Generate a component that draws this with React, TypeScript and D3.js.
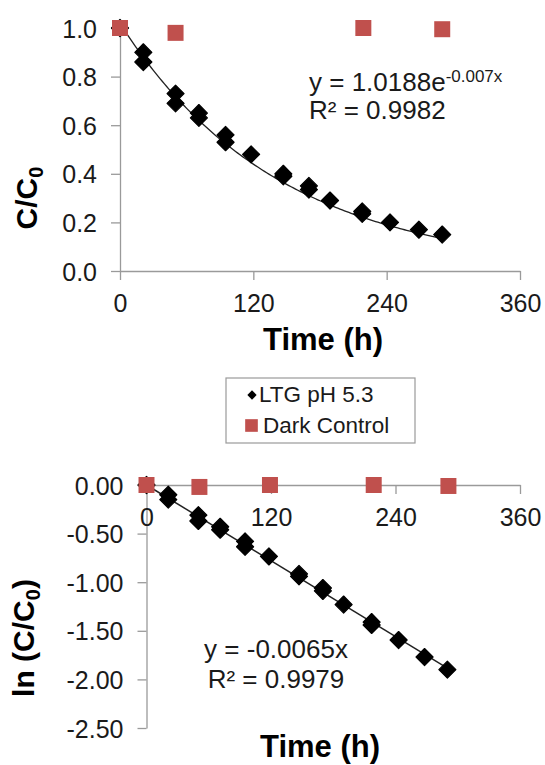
import React, { useRef, useEffect } from "react";
import * as d3 from "d3";

// photolysis series
const ltgTime = [0, 21, 21, 50, 50, 71, 71, 95, 95, 118, 147, 147, 170, 170, 189, 218, 218, 243, 269, 290];
const ltgRatio = [1.0, 0.9, 0.86, 0.73, 0.69, 0.65, 0.63, 0.56, 0.53, 0.48, 0.4, 0.39, 0.35, 0.335, 0.29, 0.245, 0.235, 0.2, 0.17, 0.15];
const darkTime = [0, 50, 219, 290];
const darkRatio = [1.0, 0.98, 1.0, 0.995];

const lnTime = [0, 21, 21, 50, 50, 71, 71, 95, 95, 118, 147, 147, 170, 170, 190, 217, 217, 243, 268, 290];
const lnRatio = [0, -0.1, -0.15, -0.31, -0.37, -0.43, -0.46, -0.58, -0.635, -0.735, -0.915, -0.94, -1.06, -1.09, -1.23, -1.41, -1.44, -1.595, -1.77, -1.9];
const lnDarkTime = [0, 51, 119, 219, 291];
const lnDarkRatio = [0, -0.02, 0, 0, -0.01];

const timeTicks = [0, 120, 240, 360];
const ratioTicks = [0, 0.2, 0.4, 0.6, 0.8, 1.0];
const lnTicks = [0, -0.5, -1.0, -1.5, -2.0, -2.5];

// fitted trendlines shown on the chart
const expFit = { a: 1.0188, k: -0.007, tMax: 290 };
const linFit = { m: -0.0065, tMax: 290 };

const FONT = "'Liberation Sans', Arial, sans-serif";
const RED = "#C0504D";
const AXIS = "#9a9a9a";

// excel style numbers: plain hyphen for negatives
const fmt = (digits) => (d) => d.toFixed(digits);

const App = () => {
  const ref = useRef<SVGSVGElement>(null);

  useEffect(() => {
    const svg = d3.select(ref.current);
    svg.selectAll("*").remove();

    const diamond = d3.symbol().type(d3.symbolDiamond2).size(185);
    const square = d3.symbol().type(d3.symbolSquare).size(256);

    const styleAxis = (g, anchorLeft) => {
      g.select(".domain").attr("stroke", AXIS).attr("stroke-width", 1.3);
      g.selectAll(".tick line").attr("stroke", AXIS).attr("stroke-width", 1.3);
      g.selectAll(".tick text")
        .attr("fill", "#1a1a1a")
        .style("font-family", FONT)
        .style("font-size", "25px");
      if (anchorLeft) g.selectAll(".tick text").attr("dy", "0.36em");
    };

    const drawDiamonds = (xs, ys, x, y, cls) =>
      svg
        .selectAll("." + cls)
        .data(xs)
        .enter()
        .append("path")
        .attr("class", cls)
        .attr("d", diamond)
        .attr("transform", (d, i) => `translate(${x(d)},${y(ys[i])})`)
        .attr("fill", "#000")
        .attr("stroke", "#000")
        .attr("stroke-width", 1.2)
        .attr("stroke-linejoin", "round");

    const drawSquares = (xs, ys, x, y, cls) =>
      svg
        .selectAll("." + cls)
        .data(xs)
        .enter()
        .append("path")
        .attr("class", cls)
        .attr("d", square)
        .attr("transform", (d, i) => `translate(${x(d)},${y(ys[i])})`)
        .attr("fill", RED);

    // ---------- top panel: C/C0 vs time ----------
    const x1 = d3.scaleLinear().domain([0, 360]).range([120, 520]);
    const y1 = d3.scaleLinear().domain([0, 1]).range([271, 28]);

    svg
      .append("g")
      .attr("transform", `translate(0,${y1(0)})`)
      .call(d3.axisBottom(x1).tickValues(timeTicks).tickSize(9).tickSizeOuter(0).tickPadding(14))
      .call((g) => styleAxis(g, false));

    svg
      .append("g")
      .attr("transform", `translate(${x1(0)},0)`)
      .call(
        d3
          .axisLeft(y1)
          .tickValues(ratioTicks)
          .tickSize(9)
          .tickSizeOuter(0)
          .tickPadding(14)
          .tickFormat(fmt(1))
      )
      .call((g) => styleAxis(g, true));

    const expLine = d3
      .line()
      .x((d) => x1(d))
      .y((d) => y1(expFit.a * Math.exp(expFit.k * d)));
    svg
      .append("path")
      .datum(d3.range(0, expFit.tMax + 1, 2))
      .attr("d", expLine)
      .attr("fill", "none")
      .attr("stroke", "#222")
      .attr("stroke-width", 1.3);

    drawDiamonds(ltgTime, ltgRatio, x1, y1, "ltg1");
    drawSquares(darkTime, darkRatio, x1, y1, "dark1");

    const eq1 = svg
      .append("text")
      .attr("x", 309)
      .attr("y", 91)
      .attr("fill", "#1a1a1a")
      .style("font-family", FONT)
      .style("font-size", "26px");
    eq1.append("tspan").text("y = 1.0188e");
    eq1.append("tspan").attr("dy", -9).style("font-size", "17px").text("-0.007x");

    svg
      .append("text")
      .attr("x", 309)
      .attr("y", 119)
      .attr("fill", "#1a1a1a")
      .style("font-family", FONT)
      .style("font-size", "26px")
      .text("R² = 0.9982");

    const t1 = svg
      .append("text")
      .attr("transform", "translate(37,198) rotate(-90)")
      .attr("text-anchor", "middle")
      .attr("fill", "#000")
      .style("font-family", FONT)
      .style("font-size", "30px")
      .style("font-weight", "bold");
    t1.append("tspan").text("C/C");
    t1.append("tspan").attr("dy", 6).style("font-size", "20px").text("0");

    svg
      .append("text")
      .attr("x", 323)
      .attr("y", 350)
      .attr("text-anchor", "middle")
      .attr("fill", "#000")
      .style("font-family", FONT)
      .style("font-size", "31px")
      .style("font-weight", "bold")
      .text("Time (h)");

    // ---------- legend ----------
    const lg = svg.append("g");
    lg.append("rect")
      .attr("x", 226)
      .attr("y", 378)
      .attr("width", 189)
      .attr("height", 65)
      .attr("fill", "#fff")
      .attr("stroke", AXIS)
      .attr("stroke-width", 1.2);
    lg.append("path")
      .attr("d", d3.symbol().type(d3.symbolDiamond2).size(55)())
      .attr("transform", "translate(252,395)")
      .attr("fill", "#000");
    lg.append("path")
      .attr("d", d3.symbol().type(d3.symbolSquare).size(160)())
      .attr("transform", "translate(251.5,425.5)")
      .attr("fill", RED);
    lg.append("text")
      .attr("x", 259)
      .attr("y", 402)
      .style("font-family", FONT)
      .style("font-size", "22.5px")
      .attr("fill", "#1a1a1a")
      .text("LTG pH 5.3");
    lg.append("text")
      .attr("x", 263)
      .attr("y", 433)
      .style("font-family", FONT)
      .style("font-size", "22.5px")
      .attr("fill", "#1a1a1a")
      .text("Dark Control");

    // ---------- bottom panel: ln(C/C0) vs time ----------
    const x2 = d3.scaleLinear().domain([0, 360]).range([146.5, 520]);
    const y2 = d3.scaleLinear().domain([-2.5, 0]).range([728, 485]);

    svg
      .append("g")
      .attr("transform", `translate(${x2(0)},0)`)
      .call(
        d3
          .axisLeft(y2)
          .tickValues(lnTicks)
          .tickSize(9)
          .tickSizeOuter(0)
          .tickPadding(14)
          .tickFormat(fmt(2))
      )
      .call((g) => styleAxis(g, true));

    svg
      .append("g")
      .attr("transform", `translate(0,${y2(0)})`)
      .call(d3.axisBottom(x2).tickValues(timeTicks).tickSize(9).tickSizeOuter(0).tickPadding(14))
      .call((g) => styleAxis(g, false));

    const linLine = d3
      .line()
      .x((d) => x2(d))
      .y((d) => y2(linFit.m * d));
    svg
      .append("path")
      .datum([0, linFit.tMax])
      .attr("d", linLine)
      .attr("fill", "none")
      .attr("stroke", "#222")
      .attr("stroke-width", 1.5);

    drawDiamonds(lnTime, lnRatio, x2, y2, "ltg2");
    drawSquares(lnDarkTime, lnDarkRatio, x2, y2, "dark2");

    svg
      .append("text")
      .attr("x", 276)
      .attr("y", 658)
      .attr("text-anchor", "middle")
      .attr("fill", "#1a1a1a")
      .style("font-family", FONT)
      .style("font-size", "26px")
      .text("y = -0.0065x");
    svg
      .append("text")
      .attr("x", 276)
      .attr("y", 688)
      .attr("text-anchor", "middle")
      .attr("fill", "#1a1a1a")
      .style("font-family", FONT)
      .style("font-size", "26px")
      .text("R² = 0.9979");

    const t2 = svg
      .append("text")
      .attr("transform", "translate(34,638) rotate(-90)")
      .attr("text-anchor", "middle")
      .attr("fill", "#000")
      .style("font-family", FONT)
      .style("font-size", "30px")
      .style("font-weight", "bold");
    t2.append("tspan").text("ln (C/C");
    t2.append("tspan").attr("dy", 6).style("font-size", "20px").text("0");
    t2.append("tspan").attr("dy", -6).text(")");

    svg
      .append("text")
      .attr("x", 320)
      .attr("y", 757)
      .attr("text-anchor", "middle")
      .attr("fill", "#000")
      .style("font-family", FONT)
      .style("font-size", "31px")
      .style("font-weight", "bold")
      .text("Time (h)");
  }, []);

  return (
    <svg
      ref={ref}
      width={545}
      height={765}
      style={{ position: "absolute", left: 0, top: 0, background: "#fff" }}
    />
  );
};

export default App;
